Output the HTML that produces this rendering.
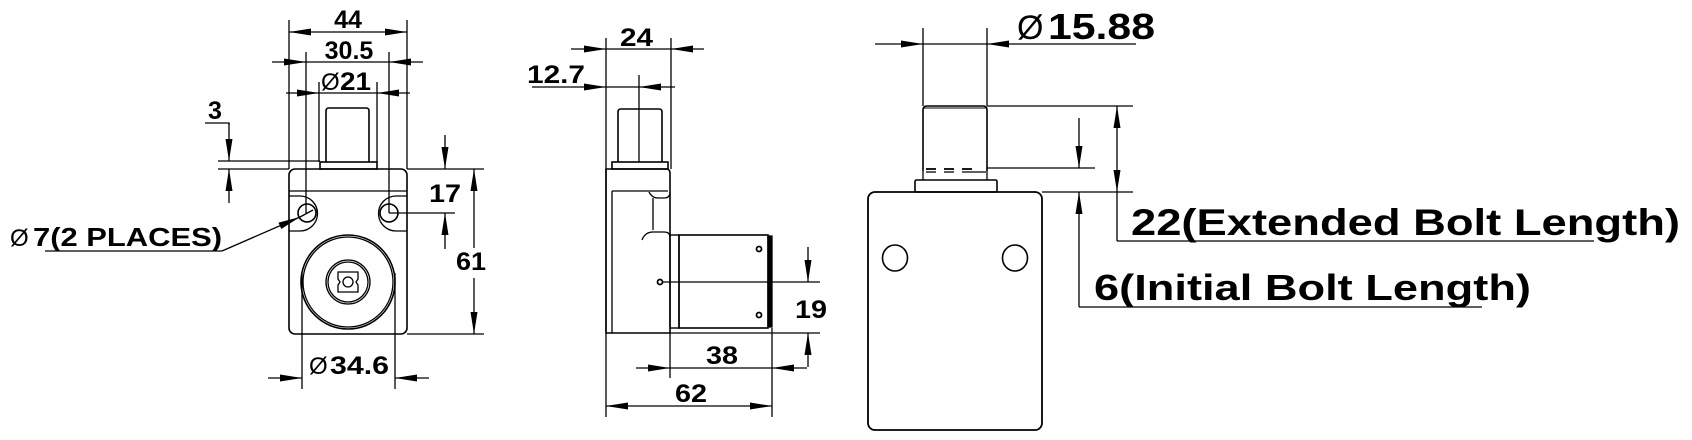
<!DOCTYPE html>
<html><head><meta charset="utf-8"><style>
html,body{margin:0;padding:0;background:#fff;}
svg{display:block;}
text{font-family:"Liberation Sans",Arial,sans-serif;font-weight:bold;fill:#000;}
</style></head><body>
<svg width="1692" height="440" viewBox="0 0 1692 440" xmlns="http://www.w3.org/2000/svg">
<defs>
<marker id="a" markerUnits="userSpaceOnUse" markerWidth="24" markerHeight="10" refX="22" refY="4" orient="auto">
<path d="M0,0.5 L22,4 L0,7.5 Z" fill="#000"/>
</marker>
</defs>
<g stroke="#000" stroke-width="1.3" fill="none">
<!-- ===== LEFT VIEW ===== -->
<!-- bolt -->
<path d="M326,162 L326,111 Q326,108 329,108 L366,108 Q369,108 369,111 L369,162" stroke-width="1.6"/>
<rect x="320" y="162" width="57" height="7" stroke-width="1.6"/>
<!-- body -->
<rect x="289" y="169" width="118" height="165" rx="6" stroke-width="1.6"/>
<line x1="289" y1="191" x2="407" y2="191"/>
<path d="M289,196 L300,196 A17,17 0 0 1 300,231 L289,231"/>
<path d="M407,196 L396,196 A17,17 0 0 0 396,231 L407,231"/>
<circle cx="307" cy="213" r="9" stroke-width="1.6"/>
<circle cx="389" cy="213" r="9" stroke-width="1.6"/>
<circle cx="348" cy="282" r="47" stroke-width="1.6"/>
<circle cx="348" cy="282" r="45"/>
<circle cx="348" cy="282" r="22"/>
<circle cx="348" cy="282" r="20"/>
<path d="M338,272 L358,272 L358,279 L356,282 L358,285 L358,292 L338,292 L338,285 L340,282 L338,279 Z"/>
<circle cx="348" cy="282" r="5"/>
<!-- 44 -->
<line x1="289" y1="20" x2="289" y2="169"/>
<line x1="407" y1="20" x2="407" y2="169"/>
<line x1="348" y1="32" x2="289" y2="32" marker-end="url(#a)"/>
<line x1="348" y1="32" x2="407" y2="32" marker-end="url(#a)"/>
<!-- 30.5 -->
<line x1="306" y1="52" x2="306" y2="213"/>
<line x1="389" y1="52" x2="389" y2="213"/>
<line x1="272" y1="62" x2="306" y2="62" marker-end="url(#a)"/>
<line x1="423" y1="62" x2="389" y2="62" marker-end="url(#a)"/>
<line x1="306" y1="62" x2="389" y2="62"/>
<!-- 21 -->
<line x1="319" y1="82" x2="319" y2="162"/>
<line x1="377" y1="82" x2="377" y2="162"/>
<line x1="286" y1="93" x2="319" y2="93" marker-end="url(#a)"/>
<line x1="410" y1="93" x2="377" y2="93" marker-end="url(#a)"/>
<line x1="319" y1="93" x2="377" y2="93"/>
<!-- 3 -->
<line x1="218" y1="161" x2="320" y2="161"/>
<line x1="218" y1="169" x2="289" y2="169"/>
<polyline points="205,123 229,123 229,125"/>
<line x1="229" y1="123" x2="229" y2="161" marker-end="url(#a)"/>
<line x1="229" y1="203" x2="229" y2="169" marker-end="url(#a)"/>
<!-- 17 -->
<line x1="407" y1="169" x2="484" y2="169"/>
<line x1="389" y1="213" x2="455" y2="213"/>
<line x1="445" y1="135" x2="445" y2="169" marker-end="url(#a)"/>
<line x1="445" y1="249" x2="445" y2="213" marker-end="url(#a)"/>
<!-- 61 -->
<line x1="407" y1="334" x2="484" y2="334"/>
<line x1="474" y1="248" x2="474" y2="169" marker-end="url(#a)"/>
<line x1="474" y1="278" x2="474" y2="334" marker-end="url(#a)"/>
<!-- 34.6 -->
<line x1="302" y1="273" x2="302" y2="389"/>
<line x1="395" y1="273" x2="395" y2="389"/>
<line x1="268" y1="378" x2="302" y2="378" marker-end="url(#a)"/>
<line x1="429" y1="378" x2="395" y2="378" marker-end="url(#a)"/>
<!-- 7 leader -->
<line x1="45" y1="251" x2="222" y2="251"/>
<line x1="222" y1="251" x2="300" y2="217" marker-end="url(#a)"/>
<line x1="300" y1="217" x2="313" y2="210"/>

<!-- ===== MIDDLE VIEW ===== -->
<path d="M618,162 L618,112 Q618,109 621,109 L659,109 Q662,109 662,112 L662,162" stroke-width="1.6"/>
<rect x="612" y="162" width="56" height="7" stroke-width="1.6"/>
<path d="M606,169 L666,169 Q670,169 670,173 L670,333 L606,333 Z" stroke-width="1.6"/>
<line x1="612" y1="191" x2="612" y2="333"/>
<line x1="612" y1="191" x2="668" y2="191"/>
<path d="M649,192 Q652,198 658,198 L664,198 Q670,198 670,192"/>
<line x1="653" y1="198" x2="653" y2="230"/>
<path d="M642,240 Q645,232 653,232 L664,232 Q670,232 670,237"/>
<!-- cylinder -->
<rect x="670" y="235" width="9" height="93" stroke-width="1.4"/>
<rect x="679" y="235" width="89" height="93" stroke-width="1.6"/>
<rect x="768" y="236" width="4" height="91" fill="#000"/>
<circle cx="759" cy="249" r="2.5" stroke-width="1.8"/>
<circle cx="759" cy="315" r="2.5" stroke-width="1.8"/>
<circle cx="660" cy="282" r="2.5" stroke-width="1.8"/>
<!-- 24 -->
<line x1="606" y1="38" x2="606" y2="417"/>
<line x1="671" y1="38" x2="671" y2="169"/>
<line x1="571" y1="49" x2="606" y2="49" marker-end="url(#a)"/>
<line x1="704" y1="49" x2="671" y2="49" marker-end="url(#a)"/>
<line x1="606" y1="49" x2="671" y2="49"/>
<!-- 12.7 -->
<line x1="532" y1="87" x2="606" y2="87" marker-end="url(#a)"/>
<line x1="675" y1="87" x2="639" y2="87" marker-end="url(#a)"/>
<line x1="606" y1="87" x2="639" y2="87"/>
<line x1="639" y1="75" x2="639" y2="162"/>
<!-- 19 -->
<line x1="663" y1="282" x2="820" y2="282"/>
<line x1="670" y1="333" x2="820" y2="333"/>
<line x1="808" y1="247" x2="808" y2="282" marker-end="url(#a)"/>
<line x1="808" y1="367" x2="808" y2="333" marker-end="url(#a)"/>
<!-- 38 -->
<line x1="670" y1="333" x2="670" y2="378"/>
<line x1="772" y1="328" x2="772" y2="417"/>
<line x1="636" y1="368" x2="670" y2="368" marker-end="url(#a)"/>
<line x1="807" y1="368" x2="772" y2="368" marker-end="url(#a)"/>
<line x1="670" y1="368" x2="772" y2="368"/>
<!-- 62 -->
<line x1="689" y1="406" x2="606" y2="406" marker-end="url(#a)"/>
<line x1="689" y1="406" x2="772" y2="406" marker-end="url(#a)"/>

<!-- ===== RIGHT VIEW ===== -->
<path d="M923,171 L923,110 Q923,106 927,106 L983,106 Q987,106 987,110 L987,171" stroke-width="1.6"/>
<line x1="924" y1="108" x2="986" y2="108" stroke-width="1"/>
<line x1="926" y1="169" x2="936" y2="169" stroke-width="1.8"/>
<line x1="944" y1="169" x2="954" y2="169" stroke-width="1.8"/>
<line x1="962" y1="169" x2="972" y2="169" stroke-width="1.8"/>
<line x1="926" y1="172" x2="936" y2="172" stroke-width="1.3"/>
<line x1="944" y1="172" x2="954" y2="172" stroke-width="1.3"/>
<line x1="962" y1="172" x2="986" y2="172" stroke-width="1.3"/>
<line x1="923" y1="171" x2="923" y2="180"/>
<line x1="987" y1="171" x2="987" y2="180"/>
<rect x="915" y="180" width="82" height="12" rx="1.5" stroke-width="1.6"/>
<rect x="868" y="192" width="174" height="238" rx="7" stroke-width="1.8"/>
<ellipse cx="895" cy="258" rx="12.5" ry="13" stroke-width="1.6"/>
<ellipse cx="1015" cy="258" rx="12.5" ry="13" stroke-width="1.6"/>
<!-- 15.88 -->
<line x1="923" y1="28" x2="923" y2="106"/>
<line x1="987" y1="28" x2="987" y2="106"/>
<line x1="875" y1="44" x2="923" y2="44" marker-end="url(#a)"/>
<line x1="1136" y1="44" x2="987" y2="44" marker-end="url(#a)"/>
<line x1="923" y1="44" x2="987" y2="44"/>
<!-- bolt length dims -->
<line x1="987" y1="106" x2="1133" y2="106"/>
<line x1="987" y1="168" x2="1095" y2="168"/>
<line x1="1042" y1="192" x2="1133" y2="192"/>
<line x1="1079" y1="118" x2="1079" y2="168" marker-end="url(#a)"/>
<line x1="1079" y1="307" x2="1079" y2="192" marker-end="url(#a)"/>
<line x1="1079" y1="307" x2="1482" y2="307"/>
<line x1="1117" y1="150" x2="1117" y2="106" marker-end="url(#a)"/>
<line x1="1117" y1="150" x2="1117" y2="192" marker-end="url(#a)"/>
<line x1="1117" y1="192" x2="1117" y2="241"/>
<line x1="1117" y1="241" x2="1594" y2="241"/>
</g>
<!-- TEXT -->
<g font-size="25">
<text x="348" y="28" text-anchor="middle">44</text>
<text x="349" y="59" text-anchor="middle">30.5</text>
<text x="340" y="90" textLength="31" lengthAdjust="spacingAndGlyphs">21</text>
<text x="208" y="119">3</text>
<text x="429" y="202" textLength="32" lengthAdjust="spacingAndGlyphs">17</text>
<text x="456" y="270" textLength="30" lengthAdjust="spacingAndGlyphs">61</text>
<text x="330" y="374" textLength="59" lengthAdjust="spacingAndGlyphs">34.6</text>
<text x="33" y="246" font-size="26" textLength="189" lengthAdjust="spacingAndGlyphs">7(2 PLACES)</text>
<text x="620" y="46" textLength="33" lengthAdjust="spacingAndGlyphs">24</text>
<text x="527" y="83" textLength="58" lengthAdjust="spacingAndGlyphs">12.7</text>
<text x="795" y="318" textLength="32" lengthAdjust="spacingAndGlyphs">19</text>
<text x="706" y="364" textLength="32" lengthAdjust="spacingAndGlyphs">38</text>
<text x="675" y="402" textLength="32" lengthAdjust="spacingAndGlyphs">62</text>
<text x="1048" y="39" font-size="36" textLength="107" lengthAdjust="spacingAndGlyphs">15.88</text>
<text x="1131" y="235" font-size="37" textLength="549" lengthAdjust="spacingAndGlyphs">22(Extended Bolt Length)</text>
<text x="1094" y="300" font-size="36" textLength="437" lengthAdjust="spacingAndGlyphs">6(Initial Bolt Length)</text>
</g>
<g font-weight="normal" style="font-weight:normal">
<text x="321" y="90" font-size="24" style="font-weight:normal">Ø</text>
<text x="309" y="374" font-size="24" style="font-weight:normal">Ø</text>
<text x="10" y="246" font-size="24" style="font-weight:normal">Ø</text>
<text x="1017" y="39" font-size="34" style="font-weight:normal">Ø</text>
</g>
</svg>
</body></html>
